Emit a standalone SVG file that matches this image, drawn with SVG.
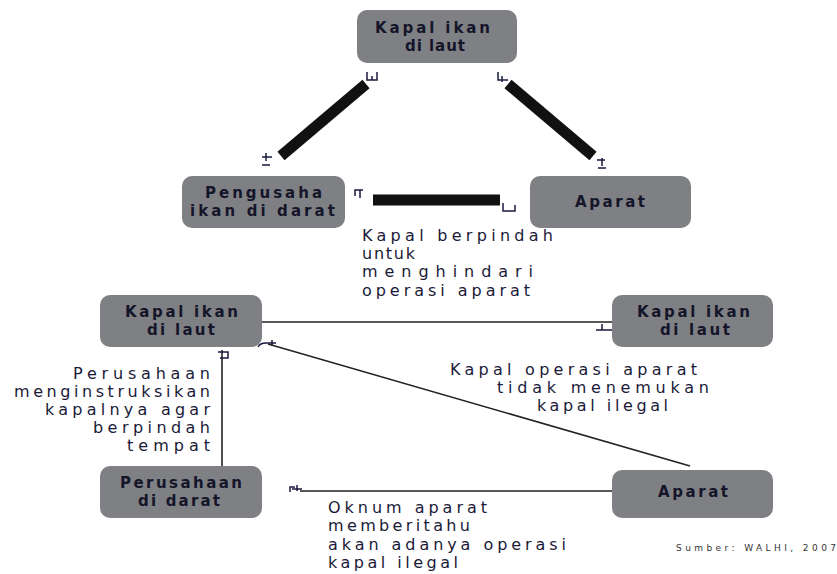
<svg xmlns="http://www.w3.org/2000/svg" width="837" height="574" viewBox="0 0 837 574">
<style>
.node rect{fill:#7f8084;}
.nl{font-family:"DejaVu Sans",sans-serif;font-weight:bold;font-size:15px;fill:#15152a;}
.lb{font-family:"DejaVu Sans",sans-serif;font-size:16px;fill:#1a1a38;}
.src{font-family:"DejaVu Sans",sans-serif;font-size:9px;fill:#333;}
.bar{stroke:#111;stroke-width:11;fill:none;}
.ln{stroke:#222;stroke-width:1.6;fill:none;}
.hk{stroke:#1a1a40;stroke-width:1.5;fill:none;}
</style>
<rect width="837" height="574" fill="#fff"/>
<g id="n1" class="node"><rect x="357" y="10" width="160" height="53" rx="10"/>
<text class="nl" x="375" y="33" textLength="115" lengthAdjust="spacing">Kapal ikan</text>
<text class="nl" x="405" y="51" textLength="60" lengthAdjust="spacing">di laut</text></g>
<g id="n2" class="node"><rect x="182" y="176" width="163" height="52" rx="10"/>
<text class="nl" x="205" y="198" textLength="117" lengthAdjust="spacing">Pengusaha</text>
<text class="nl" x="190" y="216" textLength="145" lengthAdjust="spacing">ikan di darat</text></g>
<g id="n3" class="node"><rect x="530" y="176" width="161" height="52" rx="10"/>
<text class="nl" x="575" y="207" textLength="70" lengthAdjust="spacing">Aparat</text></g>
<g id="n4" class="node"><rect x="100" y="295" width="162" height="52" rx="10"/>
<text class="nl" x="125" y="317" textLength="113" lengthAdjust="spacing">Kapal ikan</text>
<text class="nl" x="147" y="335" textLength="68" lengthAdjust="spacing">di laut</text></g>
<g id="n5" class="node"><rect x="612" y="295" width="161" height="52" rx="10"/>
<text class="nl" x="637" y="317" textLength="113" lengthAdjust="spacing">Kapal ikan</text>
<text class="nl" x="660" y="335" textLength="70" lengthAdjust="spacing">di laut</text></g>
<g id="n6" class="node"><rect x="100" y="466" width="162" height="52" rx="10"/>
<text class="nl" x="120" y="488" textLength="122" lengthAdjust="spacing">Perusahaan</text>
<text class="nl" x="138" y="506" textLength="82" lengthAdjust="spacing">di darat</text></g>
<g id="n7" class="node"><rect x="612" y="470" width="161" height="48" rx="10"/>
<text class="nl" x="658" y="497" textLength="70" lengthAdjust="spacing">Aparat</text></g>
<g id="connectors">
<line class="bar" x1="281" y1="156" x2="366" y2="84"/>
<line class="bar" x1="508" y1="84" x2="593" y2="156"/>
<line class="bar" x1="373" y1="200" x2="500" y2="200"/>
<path class="hk" d="M367 72 v8 h10 v-8 M372 80 v-4"/>
<path class="hk" d="M262 157 h10 M266 153 v8 M262 165 h8"/>
<path class="hk" d="M498 72 v8 h10 M502 76 v6"/>
<path class="hk" d="M597 160 h8 M602 158 v8 M598 168 h8"/>
<path class="hk" d="M355 196 v-6 h8 M360 190 v8"/>
<path class="hk" d="M503 203 v8 h12 v-6"/>
<line class="ln" x1="262" y1="322" x2="612" y2="322"/>
<path class="hk" d="M596 330 h16 M602 324 v6"/>
<line class="ln" x1="222" y1="350" x2="222" y2="466"/>
<path class="hk" d="M218 352 h10 v6 h-8"/>
<line class="ln" x1="268" y1="344" x2="690" y2="466"/>
<path class="hk" d="M258 347 q2 -4 8 -4 h10 M272 340 v6"/>
<line class="ln" x1="300" y1="491" x2="612" y2="491"/>
<path class="hk" d="M290 492 v-5 h5 M292 489 h10 M297 485 v6"/>
</g>
<g id="labels">
<text class="lb" x="362" y="241" textLength="191" lengthAdjust="spacing">Kapal berpindah</text>
<text class="lb" x="362" y="259" textLength="53" lengthAdjust="spacing">untuk</text>
<text class="lb" x="362" y="277" textLength="171" lengthAdjust="spacing">menghindari</text>
<text class="lb" x="362" y="296" textLength="168" lengthAdjust="spacing">operasi aparat</text>
<text class="lb" x="73" y="379" textLength="137" lengthAdjust="spacing">Perusahaan</text>
<text class="lb" x="14" y="397" textLength="196" lengthAdjust="spacing">menginstruksikan</text>
<text class="lb" x="45" y="415" textLength="165" lengthAdjust="spacing">kapalnya agar</text>
<text class="lb" x="93" y="433" textLength="117" lengthAdjust="spacing">berpindah</text>
<text class="lb" x="127" y="451" textLength="83" lengthAdjust="spacing">tempat</text>
<text class="lb" x="450" y="375" textLength="247" lengthAdjust="spacing">Kapal operasi aparat</text>
<text class="lb" x="497" y="393" textLength="212" lengthAdjust="spacing">tidak menemukan</text>
<text class="lb" x="537" y="411" textLength="131" lengthAdjust="spacing">kapal ilegal</text>
<text class="lb" x="328" y="513" textLength="159" lengthAdjust="spacing">Oknum aparat</text>
<text class="lb" x="328" y="531" textLength="142" lengthAdjust="spacing">memberitahu</text>
<text class="lb" x="328" y="550" textLength="238" lengthAdjust="spacing">akan adanya operasi</text>
<text class="lb" x="328" y="568" textLength="130" lengthAdjust="spacing">kapal ilegal</text>
<text class="src" x="676" y="551" textLength="160" lengthAdjust="spacing">Sumber: WALHI, 2007</text>
</g>
</svg>
